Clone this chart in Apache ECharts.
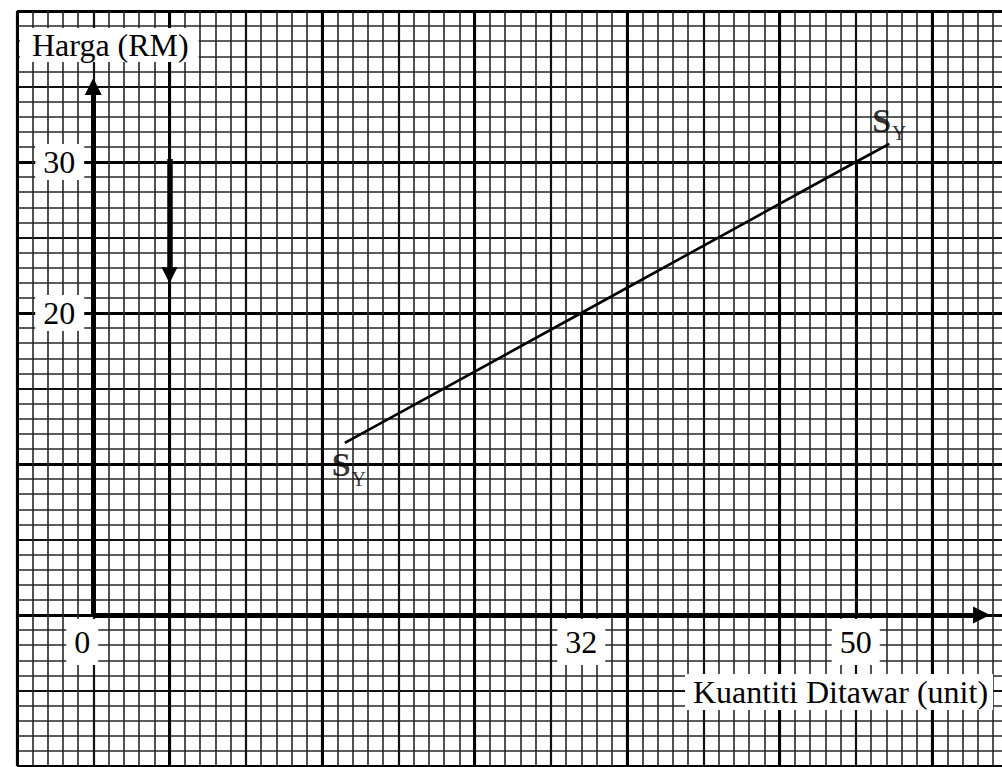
<!DOCTYPE html>
<html><head><meta charset="utf-8">
<script src="https://cdn.jsdelivr.net/npm/echarts@6/dist/echarts.min.js"></script>
<style>html,body{margin:0;padding:0;background:#fff}#c{width:1002px;height:767px}</style>
</head><body><div id="c"></div>
<script>
// ---- data ----
const xTickLabels = [0, 32, 50];
const yTickLabels = [20, 30];
const supplyQ = [16.5, 32, 50, 52.2];
const supplyP = [11.4, 20, 30, 31.2];
const curveName = 'S';
const curveSub = 'Y';
const xTitle = 'Kuantiti Ditawar (unit)';
const yTitle = 'Harga (RM)';
const xRange = [-5, 60];
const yRange = [-10, 40];
const xAxisEnd = 58.25;
const yAxisEnd = 35.0;
const shiftArrowQ = 5;
const shiftArrowP = [30.2, 22.5];
const dropQ = [32, 50];
const dropP = [20, 30];

// ---- chart ----
const serif = '"Liberation Serif","DejaVu Serif",serif';
const chart = echarts.init(document.getElementById('c'), null, {renderer: 'svg'});

const pxX = 15.25, pxY = 15.1;            // paper square size in pixels
const gridLeft = 17, gridTop = 11;
const gridW = (xRange[1] - xRange[0]) * pxX;
const gridH = (yRange[1] - yRange[0]) * pxY;
const originX = gridLeft + (0 - xRange[0]) * pxX;
const originY = gridTop + (yRange[1] - 0) * pxY;

function gridAxis(min, max, interval, color, width) {
  return {
    type: 'value', min: min, max: max, interval: interval, z: 0, silent: true,
    axisLine: {show: false, onZero: false}, axisTick: {show: false}, axisLabel: {show: false},
    splitLine: {show: true, lineStyle: {color: color, width: width}}
  };
}

const supplyData = supplyQ.map((q, i) => [q, supplyP[i]]);
function curveRich(subTop) {
  return {
    s: {fontFamily: serif, fontSize: 34, fontWeight: 'bold', color: '#000', lineHeight: 34, verticalAlign: 'top'},
    sub: {fontFamily: serif, fontSize: 20, color: '#000', lineHeight: 20, padding: [subTop, 0, 0, 1], verticalAlign: 'top'}
  };
}
const curveText = '{s|' + curveName + '}{sub|' + curveSub + '}';

const option = {
  backgroundColor: '#fff',
  animation: false,
  title: [
    {text: yTitle, left: 20, top: 28, padding: [1, 10, 1, 12], backgroundColor: '#fff',
     textStyle: {fontFamily: serif, fontSize: 32, fontWeight: 'normal', color: '#000', lineHeight: 32}},
    {text: xTitle, left: 685, top: 674, padding: [2, 5, 2, 8], backgroundColor: '#fff',
     textStyle: {fontFamily: serif, fontSize: 32, fontWeight: 'normal', color: '#000', lineHeight: 32}}
  ],
  grid: {left: gridLeft, top: gridTop, width: gridW, height: gridH, containLabel: false, outerBoundsMode: 'none'},
  xAxis: [
    gridAxis(xRange[0], xRange[1], 1, '#262626', 1.6),
    gridAxis(xRange[0], xRange[1], 5, '#111', 2.2),
    gridAxis(xRange[0] + 5, xRange[1] + 5, 10, '#000', 3),
    {
      type: 'value', min: xRange[0], max: xRange[1], z: 10, position: 'bottom',
      offset: -(gridTop + gridH - originY),
      axisLine: {show: false, onZero: false},
      axisTick: {show: false}, splitLine: {show: false},
      axisLabel: {
        show: true, customValues: xTickLabels, margin: 10,
        formatter: v => (v === 0 ? '{b|0}{sp|}' : '{b|' + v + '}'),
        rich: {
          b: {fontFamily: serif, fontSize: 32, color: '#000', backgroundColor: '#fff', padding: [7, 8, 7, 8], lineHeight: 34},
          sp: {width: 22}
        }
      }
    }
  ],
  yAxis: [
    gridAxis(yRange[0], yRange[1], 1, '#262626', 1.6),
    gridAxis(yRange[0], yRange[1], 5, '#111', 2.2),
    gridAxis(yRange[0], yRange[1], 10, '#000', 3),
    {
      type: 'value', min: yRange[0], max: yRange[1], z: 10, position: 'left',
      offset: -(originX - gridLeft),
      axisLine: {show: false, onZero: false},
      axisTick: {show: false}, splitLine: {show: false},
      axisLabel: {
        show: true, customValues: yTickLabels, margin: 9,
        fontFamily: serif, fontSize: 32, color: '#000', backgroundColor: '#fff', padding: [2, 9, 2, 8]
      }
    }
  ],
  series: [
    {
      type: 'lines', coordinateSystem: 'cartesian2d', z: 3, silent: true,
      symbol: ['none', 'triangle'], symbolSize: [16, 17],
      lineStyle: {color: '#000', width: 5, opacity: 1},
      data: [
        {coords: [[0, 0], [xAxisEnd, 0]]},
        {coords: [[0, 0], [0, yAxisEnd]]}
      ]
    },
    {
      type: 'lines', coordinateSystem: 'cartesian2d', z: 3, silent: true,
      symbol: ['none', 'triangle'], symbolSize: [20, 16],
      lineStyle: {color: '#000', width: 5.5, opacity: 1},
      data: [{coords: [[shiftArrowQ, shiftArrowP[0]], [shiftArrowQ, shiftArrowP[1]]]}]
    },
    {
      type: 'lines', coordinateSystem: 'cartesian2d', z: 3, silent: true,
      symbol: ['none', 'none'],
      lineStyle: {color: '#000', width: 3, opacity: 1},
      data: dropQ.map((q, i) => ({coords: [[q, dropP[i]], [q, 0]]}))
    },
    {
      type: 'line', z: 4, silent: true, showSymbol: false, symbol: 'none',
      lineStyle: {color: '#000', width: 2.6},
      data: supplyData
    },
    {
      type: 'scatter', z: 5, silent: true, symbolSize: 1,
      itemStyle: {color: 'rgba(0,0,0,0)'},
      data: [
        {value: supplyData[0], label: {show: true, position: 'bottom', distance: 4, offset: [4, 0], formatter: curveText, rich: curveRich(22)}},
        {value: supplyData[supplyData.length - 1], label: {show: true, position: 'top', distance: 6, formatter: curveText, rich: curveRich(20)}}
      ]
    }
  ]
};
chart.setOption(option);
</script>
</body></html>
